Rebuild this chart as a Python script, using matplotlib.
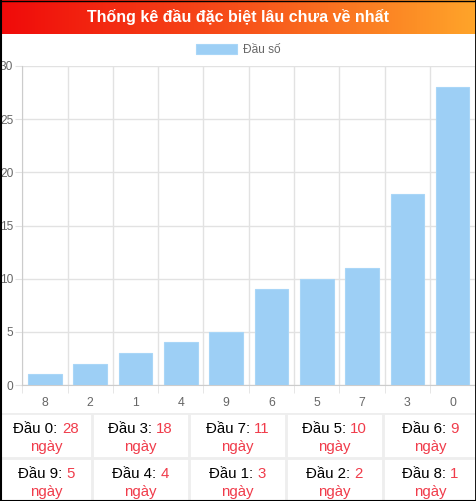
import numpy as np
import matplotlib
matplotlib.use("Agg")
import matplotlib.pyplot as plt
from matplotlib.colors import LinearSegmentedColormap

plt.rcParams['font.family'] = ['Liberation Sans', 'DejaVu Sans']

title = "Thống kê đầu đặc biệt lâu chưa về nhất"
legend_label = "Đầu số"
categories = ["8", "2", "1", "4", "9", "6", "5", "7", "3", "0"]
days = [1, 2, 3, 4, 5, 9, 10, 11, 18, 28]
y_ticks = [0, 5, 10, 15, 20, 25, 30]

# table rows: (dau, so ngay)
table_rows = [
    [("0", 28), ("3", 18), ("7", 11), ("5", 10), ("6", 9)],
    [("9", 5), ("4", 4), ("1", 3), ("2", 2), ("8", 1)],
]

W, H = 477, 501
fig = plt.figure(figsize=(W / 100, H / 100), dpi=100)


def px_axes(x0, y0, x1, y1, **kw):
    # pixel box (top-left origin) -> figure axes
    return fig.add_axes([x0 / W, 1 - y1 / H, (x1 - x0) / W, (y1 - y0) / H], **kw)


# header gradient
hax = px_axes(0, 0, W, 34)
grad = LinearSegmentedColormap.from_list("hdr", ["#f00a0a", "#f7501a", "#ffa52a"])
hax.imshow(np.linspace(0, 1, 256)[None, :], aspect="auto", cmap=grad,
           extent=[0, 1, 0, 1])
hax.text(0.5, 0.5, title, color="white", fontsize=11.5, fontweight="bold",
         ha="center", va="center", transform=hax.transAxes)
hax.axis("off")

# bar chart
bar_color = "#9dcff5"
grid_color = "#e2e2e2"
ax = px_axes(22.3, 66, 475.3, 385)
x = np.arange(len(categories))
ax.bar(x, days, width=0.74, color=bar_color, edgecolor="#a9d6f7",
       linewidth=0.8, zorder=3, label=legend_label)
ax.set_xlim(-0.5, len(categories) - 0.5)
ax.set_ylim(0, 30)
ax.set_yticks(y_ticks)
ax.set_xticks(x)
ax.set_xticklabels(categories)
ax.set_xticks(np.arange(len(categories) + 1) - 0.5, minor=True)
ax.grid(True, which="minor", axis="x", color=grid_color, lw=1, zorder=0)
ax.grid(True, which="major", axis="y", color=grid_color, lw=1, zorder=0)
ax.tick_params(axis="x", which="major", length=0, pad=9,
               labelsize=8.8, labelcolor="#666666")
ax.tick_params(axis="x", which="minor", length=5.8, color=grid_color)
ax.tick_params(axis="y", length=5, color=grid_color, pad=1.5,
               labelsize=8.6, labelcolor="#666666")
for s in ["top", "right"]:
    ax.spines[s].set_visible(False)
for s in ["left", "bottom"]:
    ax.spines[s].set_color("#cccccc")
ax.legend(loc="center", bbox_to_anchor=(0.5, 1 - 50 / H),
          bbox_transform=fig.transFigure, frameon=False,
          fontsize=8.6, handlelength=3.4, handleheight=1.0,
          handletextpad=0.5, labelcolor="#666666")

# summary table below the chart
tax = px_axes(0, 413, W, H)
tax.set_xlim(0, W)
tax.set_ylim(H, 413)
tax.axis("off")
col_edges = [0, 92, 189, 286, 383, W]
row_edges = [413, 458, H]
line_c = "#eeeeee"
for xe in col_edges[1:-1]:
    tax.plot([xe, xe], [413, H], color=line_c, lw=2)
for ye in row_edges[:-1]:
    tax.plot([0, W], [ye, ye], color=line_c, lw=2)

red = "#f03c4b"
fig.canvas.draw()
rend = fig.canvas.get_renderer()
for r, row in enumerate(table_rows):
    ytop = row_edges[r]
    for c, (dau, n) in enumerate(row):
        cx = (col_edges[c] + col_edges[c + 1]) / 2
        t1 = tax.text(0, ytop + 16, f"Đầu {dau}: ", fontsize=10.8,
                      color="black", va="center")
        t2 = tax.text(0, ytop + 16, str(n), fontsize=10.8, color=red,
                      va="center")
        w1 = t1.get_window_extent(rend).width
        w2 = t2.get_window_extent(rend).width
        left = cx - (w1 + w2) / 2
        t1.set_x(left)
        t2.set_x(left + w1)
        tax.text(cx, ytop + 34, "ngày", fontsize=10.8, color=red,
                 ha="center", va="center")

# outer black border (left, right, bottom, top)
bax = px_axes(0, 0, W, H)
bax.set_xlim(0, W)
bax.set_ylim(H, 0)
bax.axis("off")
bax.plot([0.5, 0.5], [0, H], color="black", lw=1.5)
bax.plot([W - 1, W - 1], [0, H], color="black", lw=2)
bax.plot([0, W], [H - 0.5, H - 0.5], color="black", lw=1.5)
bax.plot([0, W], [0.5, 0.5], color="black", lw=1)

fig.savefig("out.png", dpi=100)
